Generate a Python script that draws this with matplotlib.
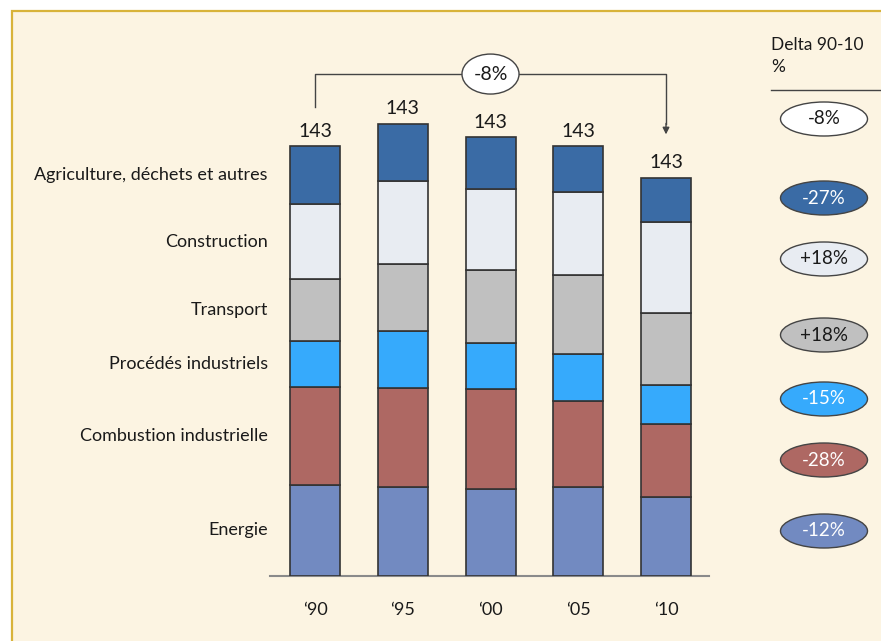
import matplotlib
matplotlib.use("Agg")
import matplotlib.pyplot as plt
from matplotlib.patches import Ellipse, Rectangle
from matplotlib.lines import Line2D
import matplotlib.transforms as mtransforms

plt.rcParams['font.family'] = ['Lato', 'DejaVu Sans']

# ---- data ----
years = ['‘90', '‘95', '‘00', '‘05', '‘10']
categories = ['Energie', 'Combustion industrielle', 'Procédés industriels',
              'Transport', 'Construction', 'Agriculture, déchets et autres']
energie = [30.3, 29.5, 28.8, 29.5, 26.4]
combustion = [32.6, 33.0, 33.3, 28.8, 24.2]
procedes = [15.4, 19.1, 15.5, 15.6, 13.1]
transport = [20.4, 22.3, 24.2, 26.4, 23.9]
construction = [25.1, 27.6, 26.9, 27.5, 30.1]
agriculture = [19.2, 18.9, 17.2, 15.2, 14.8]
total_labels = ['143', '143', '143', '143', '143']
delta_total = '-8%'
deltas = ['-12%', '-28%', '-15%', '+18%', '+18%', '-27%']  # bottom to top, same order as categories

series = [energie, combustion, procedes, transport, construction, agriculture]
colors = ['#728AC1', '#AE6863', '#36AAFC', '#C0C0C0', '#E8ECF2', '#3A6BA5']
delta_text_colors = ['white', 'white', 'white', 'black', 'black', 'white']

BG = '#FCF4E2'
W, H = 881, 641

fig = plt.figure(figsize=(W / 100, H / 100), dpi=100)
fig.patch.set_facecolor('white')


def fx(x):
    return x / W


def fy(y):
    return 1 - y / H


# cream panel with golden border (top/left visible)
fig.patches.append(Rectangle((fx(12), fy(700)), 1.2, fy(11) - fy(700), transform=fig.transFigure,
                             facecolor=BG, edgecolor='#D8B33A', linewidth=1.6, zorder=-5))

# ---- main axes ----
ax = fig.add_axes([fx(270), fy(576), (709 - 270) / W, (576 - 47) / H])
ax.set_zorder(2)
ax.patch.set_visible(False)
ax.set_xlim(-0.513, 4.49)
ax.set_ylim(0, 176)
for s in ['top', 'right', 'left']:
    ax.spines[s].set_visible(False)
ax.spines['bottom'].set_color('#8a8a8a')
ax.spines['bottom'].set_linewidth(1.5)
ax.set_yticks([])
ax.set_xticks(range(len(years)), labels=years)
ax.tick_params(axis='x', length=0, pad=19, labelsize=13, colors='#1a1a1a')

x = list(range(len(years)))
bottoms = [0.0] * len(years)
for vals, col in zip(series, colors):
    ax.bar(x, vals, bottom=bottoms, width=0.57, color=col, edgecolor='#333333',
           linewidth=1.2, zorder=3)
    bottoms = [b + v for b, v in zip(bottoms, vals)]
totals = bottoms

for xi, t, lab in zip(x, totals, total_labels):
    ax.text(xi, t + 3.2, lab, ha='center', va='baseline', fontsize=14, color='#1a1a1a')

# category labels aligned with the '90 bar segments
blend = mtransforms.blended_transform_factory(ax.transAxes, ax.transData)
b = 0.0
for vals, cat in zip(series, categories):
    ax.text(-0.005, b + vals[0] / 2, cat, transform=blend, ha='right', va='center',
            fontsize=13, color='#1a1a1a')
    b += vals[0]

# bracket with arrow from '90 to '10
y_top = 167
ax.plot([0, 0, 4, 4], [totals[0] + 13, y_top, y_top, totals[-1] + 18], color='#444444',
        linewidth=1.0, zorder=2, clip_on=False)
ax.annotate('', xy=(4, totals[-1] + 13.5), xytext=(4, totals[-1] + 19),
            arrowprops=dict(arrowstyle='-|>', color='#444444', lw=1.0, mutation_scale=10),
            annotation_clip=False)
ax.add_patch(Ellipse((2, y_top), 0.65, 13.3, facecolor='white', edgecolor='#444444',
                     linewidth=1.0, zorder=4, clip_on=False))
ax.text(2, y_top, delta_total, ha='center', va='center', fontsize=14, zorder=5,
        color='#1a1a1a')

# ---- right panel: deltas ----
fig.text(fx(771), fy(45), 'Delta 90-10', ha='left', va='center', fontsize=12.5, color='#1a1a1a')
fig.text(fx(771), fy(67), '%', ha='left', va='center', fontsize=12.5, color='#1a1a1a')
fig.lines.append(Line2D([fx(771), 1.0], [fy(90), fy(90)], transform=fig.transFigure,
                        color='#444444', linewidth=1.0))

ell_y = [531, 460, 399, 335, 259, 198]  # bottom to top
all_y = [119] + ell_y[::-1]
all_fc = ['white'] + colors[::-1]
all_tc = ['black'] + delta_text_colors[::-1]
all_txt = [delta_total] + deltas[::-1]
for yy, fc, tc, txt in zip(all_y, all_fc, all_tc, all_txt):
    fig.patches.append(Ellipse((fx(824), fy(yy)), 87 / W, 34 / H, transform=fig.transFigure,
                               facecolor=fc, edgecolor='#444444', linewidth=1.0, zorder=3))
    fig.text(fx(824), fy(yy), txt, ha='center', va='center', fontsize=13.5,
             color=tc if tc != 'black' else '#1a1a1a', zorder=4)

fig.savefig('out.png', dpi=100, facecolor=fig.get_facecolor())
